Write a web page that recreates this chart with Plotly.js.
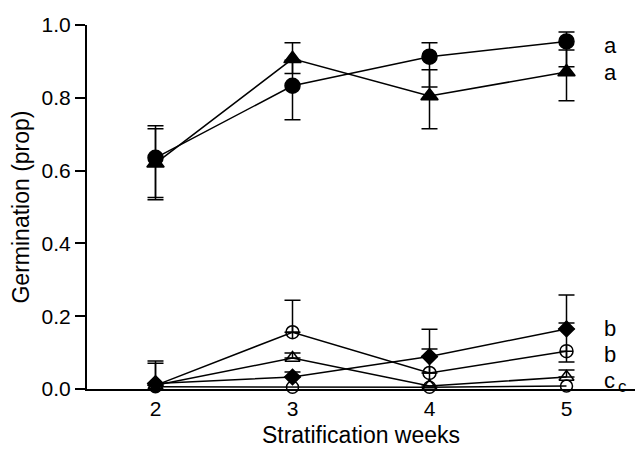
<!DOCTYPE html>
<html>
<head>
<meta charset="utf-8">
<script src="https://cdn.plot.ly/plotly-3.0.1.min.js"></script>
<style>html,body{margin:0;padding:0;background:#fff;}#chart{width:635px;height:452px;}</style>
</head>
<body>
<div id="chart"></div>
<script>
// Stratification weeks (x categories)
const weeks = [2, 3, 4, 5];
const yTickVals = [0, 0.2, 0.4, 0.6, 0.8, 1.0];
const yTickText = ["0.0", "0.2", "0.4", "0.6", "0.8", "1.0"];

// Filled circle series (a)
const filledCircle = [0.635, 0.833, 0.913, 0.955];
const filledCircleUp = [0.088, 0.07, 0.038, 0.026];
const filledCircleDown = [0.109, 0.093, 0.083, 0.07];

// Filled triangle series (a)
const filledTri = [0.62, 0.907, 0.805, 0.871];
const filledTriUp = [0.095, 0.044, 0.072, 0.06];
const filledTriDown = [0.1, 0.04, 0.09, 0.079];

// Filled diamond series (b)
const filledDiamond = [0.015, 0.033, 0.089, 0.165];
const filledDiamondUp = [0.062, 0.014, 0.075, 0.093];
const filledDiamondDown = [0, 0, 0, 0];

// Crossed open circle series (b)
const crossCircle = [0.01, 0.156, 0.044, 0.104];
const crossCircleUp = [0.061, 0.088, 0.066, 0.077];
const crossCircleDown = [0, 0, 0, 0.03];

// Open triangle series (c)
const openTri = [0.01, 0.085, 0.008, 0.033];
const openTriUp = [0, 0.014, 0, 0.019];
const openTriDown = [0, 0, 0, 0];

// Open circle series (c)
const openCircle = [0.006, 0.005, 0.005, 0.008];

// Significance letters
const letterText = ["a", "a", "b", "b", "c", "c"];
const letterY = [0.945, 0.87, 0.165, 0.096, 0.022, 0.006];
const letterX = [5.27, 5.27, 5.27, 5.27, 5.27, 5.365];
const letterSize = [22, 22, 22, 22, 22, 17];

const black = "#000";
function errs(up, down) {
  return {type: "data", symmetric: false, array: up, arrayminus: down,
          color: black, thickness: 1.5, width: 8};
}
function series(y, symbol, size, up, down) {
  const t = {
    x: weeks, y: y, type: "scatter", mode: "lines+markers",
    line: {color: black, width: 1.5},
    marker: {symbol: symbol, size: size, color: black,
             line: {color: black, width: 1.5}},
    cliponaxis: false, showlegend: false, hoverinfo: "skip"
  };
  if (up) t.error_y = errs(up, down);
  return t;
}

const data = [
  series(openCircle, "circle-open", 12, null, null),
  series(openTri, "triangle-up-open", 13, openTriUp, openTriDown),
  series(crossCircle, "circle-cross-open", 13, crossCircleUp, crossCircleDown),
  series(filledDiamond, "diamond", 12, filledDiamondUp, filledDiamondDown),
  series(filledTri, "triangle-up", 15, filledTriUp, filledTriDown),
  series(filledCircle, "circle", 15, filledCircleUp, filledCircleDown)
];

const annotations = letterText.map((t, i) => ({
  x: letterX[i], y: letterY[i], xref: "x", yref: "y", text: t,
  showarrow: false, xanchor: "left", yanchor: "middle", borderpad: 0,
  font: {family: "Liberation Sans, Arial, sans-serif", size: letterSize[i], color: black}
}));

const font = {family: "Liberation Sans, Arial, sans-serif", color: black};
const layout = {
  width: 635, height: 452,
  margin: {l: 87, r: 0, t: 25, b: 63, pad: 0},
  paper_bgcolor: "#fff", plot_bgcolor: "#fff",
  font: font,
  xaxis: {
    range: [1.5, 5.5], tickvals: weeks, ticktext: weeks.map(String),
    showline: true, linecolor: black, linewidth: 2, ticks: "", showgrid: false,
    zeroline: false, tickfont: {size: 21, color: black},
    title: {text: "Stratification weeks", font: {size: 23, color: black}, standoff: 8}
  },
  yaxis: {
    range: [0, 1], tickvals: yTickVals, ticktext: yTickText,
    showline: true, linecolor: black, linewidth: 2, ticks: "outside", ticklen: 10,
    tickwidth: 2, tickcolor: black, showgrid: false, zeroline: false,
    tickfont: {size: 21, color: black},
    title: {text: "Germination (prop)", font: {size: 23, color: black}, standoff: 6}
  },
  annotations: annotations
};

Plotly.newPlot("chart", data, layout, {displayModeBar: false, staticPlot: true});
</script>
</body>
</html>
